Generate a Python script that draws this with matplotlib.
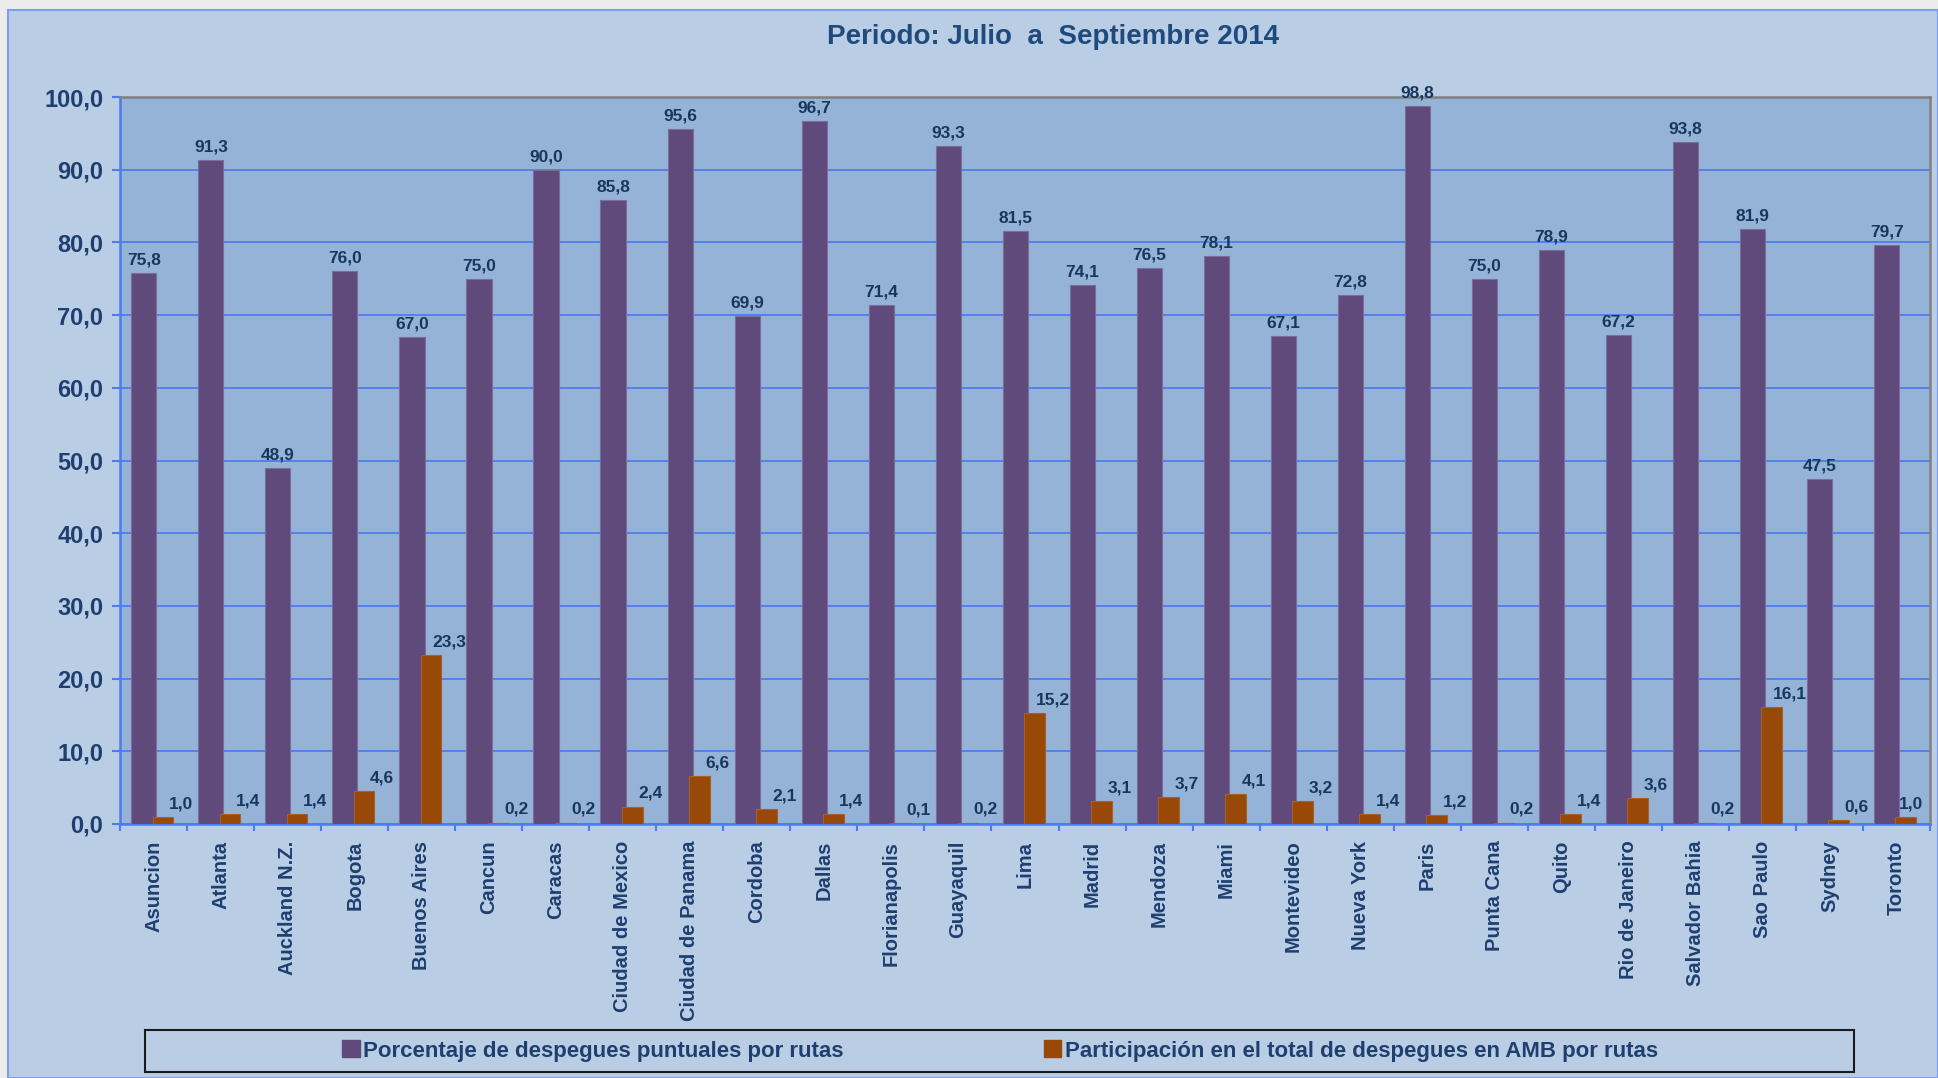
"""Puntualidad de despegues por ruta, julio-septiembre 2014."""
import matplotlib
matplotlib.use("Agg")
import matplotlib.pyplot as plt
from matplotlib.patches import Rectangle
import numpy as np

plt.rcParams["font.family"] = ["Liberation Sans", "DejaVu Sans"]
plt.rcParams["font.weight"] = "bold"

CITIES = ["Asuncion", "Atlanta", "Auckland N.Z.", "Bogota", "Buenos Aires",
          "Cancun", "Caracas", "Ciudad de Mexico", "Ciudad de Panama",
          "Cordoba", "Dallas", "Florianapolis", "Guayaquil", "Lima", "Madrid",
          "Mendoza", "Miami", "Montevideo", "Nueva York", "Paris",
          "Punta Cana", "Quito", "Rio de Janeiro", "Salvador Bahia",
          "Sao Paulo", "Sydney", "Toronto"]
PUNTUALES = [75.8, 91.3, 48.9, 76.0, 67.0, 75.0, 90.0, 85.8, 95.6, 69.9, 96.7,
             71.4, 93.3, 81.5, 74.1, 76.5, 78.1, 67.1, 72.8, 98.8, 75.0, 78.9,
             67.2, 93.8, 81.9, 47.5, 79.7]
PARTICIPACION = [1.0, 1.4, 1.4, 4.6, 23.3, 0.2, 0.2, 2.4, 6.6, 2.1, 1.4, 0.1,
                 0.2, 15.2, 3.1, 3.7, 4.1, 3.2, 1.4, 1.2, 0.2, 1.4, 3.6, 0.2,
                 16.1, 0.6, 1.0]
YTICKS = [0, 10, 20, 30, 40, 50, 60, 70, 80, 90, 100]
TITLE = "Periodo: Julio  a  Septiembre 2014"
LEG1 = "Porcentaje de despegues puntuales por rutas"
LEG2 = "Participación en el total de despegues en AMB por rutas"

PURPLE = "#604a7b"
ORANGE = "#984807"
TXT = "#1f3f70"
LBL = "#17375e"
GRID = "#4d7cf2"
FIG_BG = "#b9cde5"
AX_BG = "#95b3d7"

W, H = 1938, 1078


def fmt(v):
    return f"{v:.1f}".replace(".", ",")


fig = plt.figure(figsize=(W / 100, H / 100), dpi=100)
fig.patch.set_facecolor("#ececec")
fig.patches.append(Rectangle((8 / W, 0), 1 - 8 / W, 1 - 10 / H,
                             transform=fig.transFigure, facecolor=FIG_BG,
                             edgecolor="#7e9ef0", lw=1.5, zorder=-10))

ax = fig.add_axes([120 / W, 1 - 824 / H, 1810 / W, 727 / H])
ax.set_facecolor(AX_BG)

n = len(CITIES)
x = np.arange(n)
ax.bar(x - 0.145, PUNTUALES, width=0.375, color=PURPLE, edgecolor="#7b6c99",
       lw=0.8, zorder=3)
ax.bar(x + 0.14, PARTICIPACION, width=0.31, color=ORANGE, edgecolor="#a8602a",
       lw=0.8, zorder=4)

for i, (a, b) in enumerate(zip(PUNTUALES, PARTICIPACION)):
    ax.annotate(fmt(a), (i - 0.145, a), xytext=(0, 4), textcoords="offset points",
                ha="center", va="bottom", fontsize=12.5, fontweight="bold",
                color=LBL, zorder=5, annotation_clip=False)
    lx = min(i + 0.41, n - 0.5 - 0.28)
    ax.annotate(fmt(b), (lx, b), xytext=(0, 4), textcoords="offset points",
                ha="center", va="bottom", fontsize=12.5, fontweight="bold",
                color=LBL, zorder=5)

ax.set_xlim(-0.5, n - 0.5)
ax.set_ylim(0, 100)
ax.set_yticks(YTICKS)
ax.set_yticklabels([fmt(v) for v in YTICKS], fontsize=17, fontweight="bold",
                   color=TXT)
ax.set_xticks(x)
ax.set_xticklabels(CITIES, rotation=90, fontsize=14.5, fontweight="bold",
                   color=TXT, va="top", ha="center")
ax.set_xticks(np.arange(n + 1) - 0.5, minor=True)
ax.tick_params(axis="x", which="major", length=0, pad=12)
ax.tick_params(axis="x", which="minor", length=5, width=1.5, color=GRID)
ax.tick_params(axis="y", length=6, width=1.5, color=GRID, pad=6)

ax.yaxis.grid(True, color=GRID, lw=1.3, zorder=1)
ax.set_axisbelow(True)
for side in ("left", "bottom"):
    ax.spines[side].set_color(GRID)
    ax.spines[side].set_linewidth(1.8)
for side in ("top", "right"):
    ax.spines[side].set_color("#808080")
    ax.spines[side].set_linewidth(1.8)

fig.text(1053 / W, 1 - 37 / H, TITLE, ha="center", va="center", fontsize=20,
         fontweight="bold", color="#1f4a7e")

# legend box
fig.patches.append(Rectangle((145 / W, 1 - 1072 / H), 1709 / W, 42 / H,
                             transform=fig.transFigure, facecolor="none",
                             edgecolor="#1a1a1a", lw=1.5, zorder=5))
h1 = Rectangle((0, 0), 1, 1, color=PURPLE)
h2 = Rectangle((0, 0), 1, 1, color=ORANGE)
leg = fig.legend([h1, h2], [LEG1, LEG2], loc="center",
                 bbox_to_anchor=(1000 / W, 1 - 1051 / H), ncol=2,
                 frameon=False, handlelength=0.8, handleheight=0.8,
                 handletextpad=0.15, columnspacing=9,
                 prop={"size": 16, "weight": "bold"})
for t in leg.get_texts():
    t.set_color(TXT)

fig.savefig("out.png", dpi=100, facecolor=fig.get_facecolor())
